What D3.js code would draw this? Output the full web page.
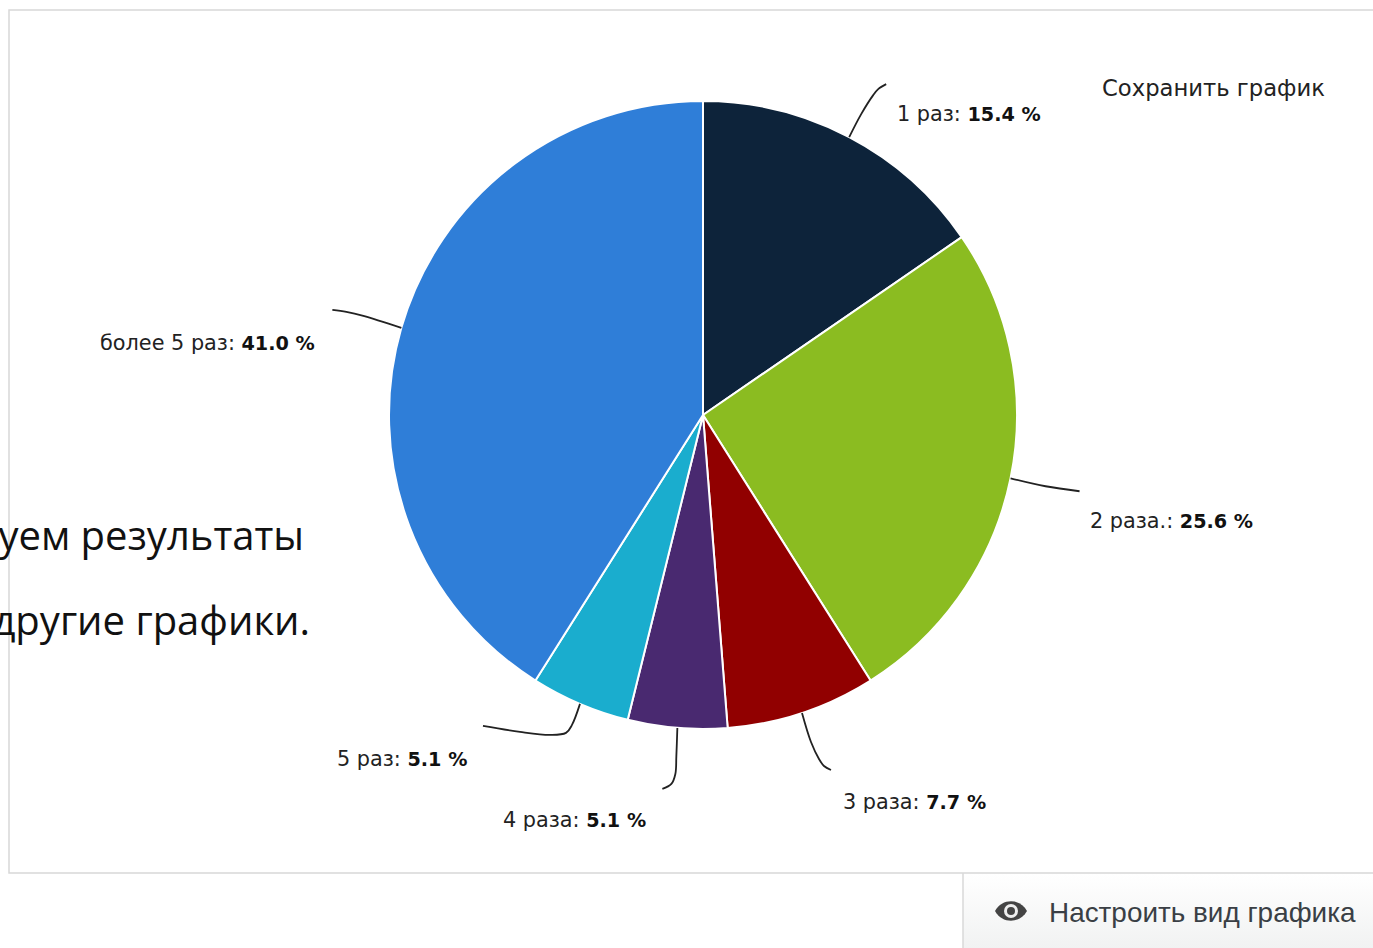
<!DOCTYPE html>
<html>
<head>
<meta charset="utf-8">
<script src="https://cdn.jsdelivr.net/npm/d3@7"></script>
<style>
  html, body { margin: 0; padding: 0; background: #fff; overflow: hidden; }
  svg { display: block; }
  .slice-label { font-family: "DejaVu Sans", sans-serif; font-size: 20.8px; fill: #222; }
  .slice-label .val { font-weight: bold; fill: #111; font-size: 19.2px; }
</style>
</head>
<body>
<svg id="chart" width="1373" height="948"></svg>
<script>
// values
const categories = ["1 раз", "2 раза.", "3 раза", "4 раза", "5 раз", "более 5 раз"];
const shares = [15.4, 25.6, 7.7, 5.1, 5.1, 41.0];
const sliceColors = ["#0d233a", "#8bbc21", "#910000", "#492970", "#1aadce", "#2f7ed8"];
const saveLabel = "Сохранить график";
const viewLabel = "Настроить вид графика";
const bodyLines = ["уем результаты", "другие графики."];

// layout
const cx = 703, cy = 415, radius = 314;
const labelPos = [[897, 114], [1090, 521], [843, 802], [503, 820], [337, 759], [100, 343]];
// connector bends, as offsets from the point on the pie edge
const connectorBends = [
  [[0, 0], [12, -23], [24, -42], [29, -48], [37, -53]],
  [[0, 0], [35, 8], [69, 13]],
  [[0, 0], [9, 29], [17, 46], [22, 53], [29, 57]],
  [[0, 0], [-1, 28], [-2, 46], [-6, 56], [-15, 61]],
  [[0, 0], [-8, 21], [-14, 29], [-30, 31], [-60, 28], [-97, 22]],
  [[0, 0], [-38, -12], [-55, -16], [-69, -18]]
];

const svg = d3.select("#chart");

// frame
svg.append("path")
  .attr("d", "M1373,10H9V873H1373")
  .attr("fill", "none")
  .attr("stroke", "#d8d8d8")
  .attr("stroke-width", 1.5);

// slide text behind the chart
svg.selectAll("text.body")
  .data(bodyLines)
  .join("text")
  .attr("class", "body")
  .attr("x", (d, i) => i ? 310 : 304)
  .attr("y", (d, i) => i ? 635 : 550)
  .attr("text-anchor", "end")
  .attr("font-family", "'Open Sans', sans-serif")
  .attr("font-size", 40)
  .attr("fill", "#111")
  .text(d => d);

const pie = d3.pie().value(d => d).sort(null);
const arc = d3.arc().innerRadius(0).outerRadius(radius);
const arcs = pie(shares);

const g = svg.append("g").attr("transform", `translate(${cx},${cy})`);

g.selectAll("path.slice")
  .data(arcs)
  .join("path")
  .attr("class", "slice")
  .attr("d", arc)
  .attr("fill", (d, i) => sliceColors[i])
  .attr("stroke", "#fff")
  .attr("stroke-width", 2)
  .attr("stroke-linejoin", "round");

// connectors start on the pie edge at each slice's middle angle
const connector = d3.line().curve(d3.curveCatmullRom.alpha(0.5));
g.selectAll("path.connector")
  .data(arcs)
  .join("path")
  .attr("class", "connector")
  .attr("d", (d, i) => {
    const mid = (d.startAngle + d.endAngle) / 2;
    const sx = Math.sin(mid) * radius, sy = -Math.cos(mid) * radius;
    return connector(connectorBends[i].map(p => [sx + p[0], sy + p[1]]));
  })
  .attr("fill", "none")
  .attr("stroke", "#222")
  .attr("stroke-width", 1.8);

// slice labels
const labels = svg.selectAll("text.slice-label")
  .data(categories)
  .join("text")
  .attr("class", "slice-label")
  .attr("x", (d, i) => labelPos[i][0])
  .attr("y", (d, i) => labelPos[i][1])
  .attr("dy", "0.36em");
labels.append("tspan").text(d => d + ": ");
labels.append("tspan").attr("class", "val").text((d, i) => shares[i].toFixed(1) + " %");

// save button text
svg.append("text")
  .attr("x", 1102)
  .attr("y", 96)
  .attr("font-family", "'DejaVu Sans', sans-serif")
  .attr("font-size", 22.7)
  .attr("fill", "#222")
  .text(saveLabel);

// "customize view" tab
const grad = svg.append("defs").append("linearGradient")
  .attr("id", "tabFill").attr("x1", 0).attr("y1", 0).attr("x2", 0).attr("y2", 1);
grad.append("stop").attr("offset", 0).attr("stop-color", "#ffffff");
grad.append("stop").attr("offset", 1).attr("stop-color", "#f1f2f2");

svg.append("rect")
  .attr("x", 963).attr("y", 874).attr("width", 410).attr("height", 74)
  .attr("fill", "url(#tabFill)");
svg.append("line")
  .attr("x1", 963).attr("x2", 963).attr("y1", 873).attr("y2", 948)
  .attr("stroke", "#d8d8d8").attr("stroke-width", 1.5);

const eye = svg.append("g").attr("transform", "translate(1011,911)");
eye.append("path")
  .attr("d", "M-16,0C-9,-13 9,-13 16,0C9,13 -9,13 -16,0Z")
  .attr("fill", "#444");
eye.append("circle").attr("r", 7).attr("fill", "#eee");
eye.append("circle").attr("r", 4).attr("fill", "#444");

svg.append("text")
  .attr("x", 1049)
  .attr("y", 922)
  .attr("font-family", "'Liberation Sans', sans-serif")
  .attr("font-size", 27.9)
  .attr("fill", "#3a3f45")
  .text(viewLabel);
</script>
</body>
</html>
